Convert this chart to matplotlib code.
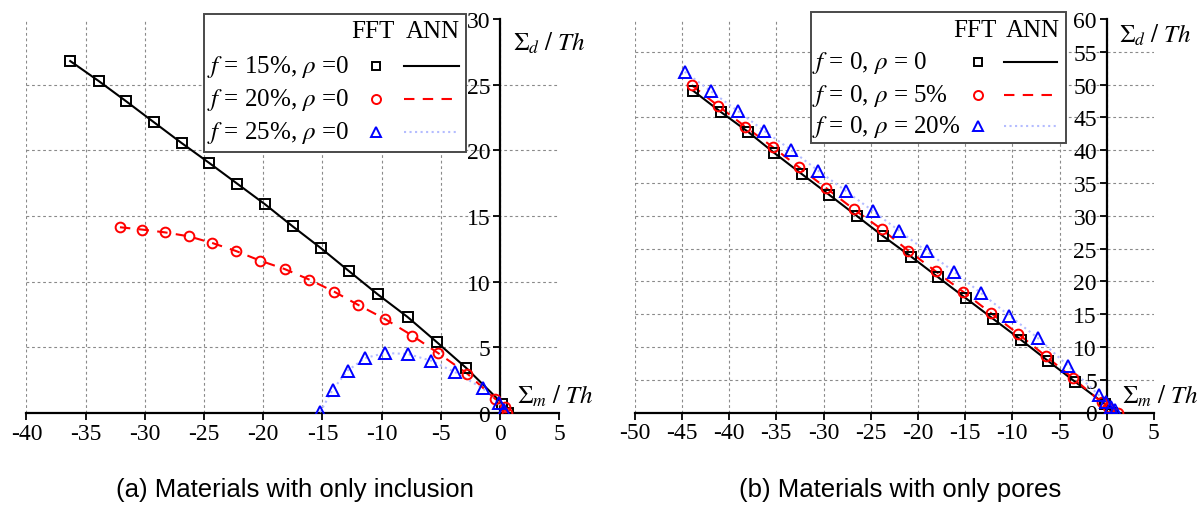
import matplotlib
matplotlib.use("Agg")
import matplotlib.pyplot as plt
from matplotlib.lines import Line2D
from matplotlib.patches import Rectangle

plt.rcParams['font.family'] = ['Liberation Serif', 'DejaVu Serif']
plt.rcParams['mathtext.fontset'] = 'stix'

# ---------------- data: (a) materials with only inclusion ----------------
a15_x = [-36.3, -33.9, -31.6, -29.25, -26.9, -24.55, -22.2, -19.85, -17.5, -15.1,
         -12.73, -10.33, -7.8, -5.35, -2.85, 0.2, 0.7]
a15_y = [26.8, 25.28, 23.75, 22.15, 20.56, 19.03, 17.46, 15.89, 14.2, 12.53,
         10.78, 9.03, 7.3, 5.4, 3.42, 0.7, 0.0]
a20_x = [-32.1, -30.2, -28.3, -26.3, -24.3, -22.3, -20.27, -18.2, -16.1, -14.0,
         -11.97, -9.71, -7.4, -5.2, -2.75, -0.42, 0.42, 0.6]
a20_y = [14.14, 13.96, 13.75, 13.45, 12.94, 12.33, 11.6, 10.96, 10.15, 9.23,
         8.22, 7.15, 5.88, 4.54, 2.98, 1.08, 0.45, 0.0]
a25_x = [-15.2, -14.13, -12.87, -11.4, -9.71, -7.8, -5.83, -3.8, -1.46, -0.05, 0.35]
a25_y = [0.05, 1.77, 3.22, 4.18, 4.56, 4.49, 3.98, 3.1, 1.87, 0.72, 0.2]

# ---------------- data: (b) materials with only pores ----------------
b0_x = [-43.8, -40.9, -38.0, -35.2, -32.3, -29.4, -26.5, -23.7, -20.7, -17.84,
        -14.9, -12.0, -9.1, -6.25, -3.36, -0.18, 0.6]
b0_y = [49.05, 45.85, 42.8, 39.56, 36.36, 33.2, 30.0, 26.9, 23.75, 20.6,
        17.4, 14.25, 11.1, 7.9, 4.7, 1.3, 0.0]
b5_x = [-43.96, -41.2, -38.3, -35.4, -32.6, -29.7, -26.8, -23.85, -21.0, -18.1,
        -15.2, -12.3, -9.36, -6.43, -3.54, -0.53, 0.1, 1.2]
b5_y = [49.9, 46.8, 43.6, 40.5, 37.4, 34.2, 31.0, 27.95, 24.67, 21.5,
        18.4, 15.2, 11.97, 8.57, 5.2, 1.55, 0.8, 0.0]
b20_x = [-44.7, -41.9, -39.1, -36.3, -33.4, -30.55, -27.65, -24.8, -21.97, -19.07,
         -16.18, -13.3, -10.3, -7.3, -4.1, -0.8, -0.07, 0.46, 0.88]
b20_y = [51.95, 48.96, 46.0, 42.96, 40.0, 36.86, 33.8, 30.76, 27.7, 24.57,
         21.46, 18.2, 14.76, 11.36, 7.13, 2.6, 1.65, 0.79, 0.38]

a_labels = [r"$f$ = 15%, $\rho$ =0", r"$f$ = 20%, $\rho$ =0", r"$f$ = 25%, $\rho$ =0"]
b_labels = [r"$f$ = 0, $\rho$ = 0", r"$f$ = 0, $\rho$ = 5%", r"$f$ = 0, $\rho$ = 20%"]
a_xticks = list(range(-40, 6, 5))
a_yticks = list(range(0, 31, 5))
b_xticks = list(range(-50, 6, 5))
b_yticks = list(range(0, 61, 5))
captions = ["(a) Materials with only inclusion", "(b) Materials with only pores"]

W, H = 1199, 506
fig = plt.figure(figsize=(W / 100, H / 100), dpi=100)

BLUE_LINE = '#b4bcff'
styles = [
    dict(marker='s', mec='black', ms=6.5, ls='-', color='black'),
    dict(marker='o', mec='red', ms=7, ls=(0, (5, 4)), color='red'),
    dict(marker='^', mec='blue', ms=8, ls=':', color=BLUE_LINE),
]

def px(x, y):
    return x / W, 1 - y / H

def setup(ax, xlim, ylim, xt, yt):
    ax.set_xlim(*xlim)
    ax.set_ylim(*ylim)
    ax.set_xticks(xt)
    ax.set_yticks(yt)
    ax.set_xticklabels([str(v) for v in xt])
    ax.set_yticklabels([str(v) for v in yt])
    for s in ['top', 'right']:
        ax.spines[s].set_visible(False)
    ax.spines['left'].set_position(('data', 0))
    ax.spines['left'].set_linewidth(1.6)
    ax.spines['bottom'].set_linewidth(1.6)
    ax.tick_params(direction='out', length=5, width=1.3, labelsize=17, pad=2)
    ax.grid(True, color='#8a8a8a', linestyle=(0, (2.5, 2.5)), linewidth=0.8)
    ax.set_axisbelow(True)
    ax.patch.set_alpha(0)
    # no grid line along the top and right edges
    ax.get_ygridlines()[-1].set_visible(False)
    ax.get_xgridlines()[-1].set_visible(False)

def plot_series(ax, xs, ys):
    for (x, y), st in zip(zip(xs, ys), styles):
        ax.plot(x, y, color=st['color'], ls=st['ls'], lw=1.5, zorder=3)
        ax.plot(x, y, ls='none', marker=st['marker'], ms=st['ms'], mfc='none',
                mec=st['mec'], mew=1.4, zorder=4)

def legend(box, header_y, fft_x, ann_x, rows_y, text_x, mark_x, line_x0, line_x1, labels):
    x0, y0, x1, y1 = box
    fx0, fy1 = px(x0, y1)
    fx1, fy0 = px(x1, y0)
    fig.add_artist(Rectangle((fx0, fy1), fx1 - fx0, fy0 - fy1, transform=fig.transFigure,
                             facecolor='white', edgecolor='#4a4a4a', lw=1.4, zorder=5))
    fig.text(*px(fft_x, header_y), "FFT", ha='center', va='center', fontsize=18, zorder=6)
    fig.text(*px(ann_x, header_y), "ANN", ha='center', va='center', fontsize=18, zorder=6)
    for lab, yy, st in zip(labels, rows_y, styles):
        fig.text(*px(text_x, yy), lab, ha='left', va='center', fontsize=18, zorder=6)
        mx, my = px(mark_x, yy)
        fig.add_artist(Line2D([mx], [my], transform=fig.transFigure, ls='none',
                              marker=st['marker'], ms=st['ms'] - 0.5, mfc='none',
                              mec=st['mec'], mew=1.4, zorder=6))
        lx0, ly = px(line_x0, yy)
        lx1, _ = px(line_x1, yy)
        fig.add_artist(Line2D([lx0, lx1], [ly, ly], transform=fig.transFigure,
                              color=st['color'], ls=st['ls'], lw=1.5, zorder=6))

# ---------- left panel ----------
l, r_ = 26.4, 559.2
axa = fig.add_axes([l / W, 1 - 413.9 / H, (r_ - l) / W, (413.9 - 20) / H])
setup(axa, (-40, 5), (0, 30), a_xticks, a_yticks)
plot_series(axa, [a15_x, a20_x, a25_x], [a15_y, a20_y, a25_y])
fig.text(*px(513, 43), r"$\Sigma_d\ /\ Th$", ha='left', va='center', fontsize=18)
fig.text(*px(517, 396.7), r"$\Sigma_m\ /\ Th$", ha='left', va='center', fontsize=18)
fig.text(*px(295, 490), captions[0], ha='center', va='center', fontsize=18.5,
         family=['Liberation Sans', 'DejaVu Sans'])
legend((204, 15, 466, 153), 32, 373, 433, [66.7, 100, 133.3], 207, 376, 404, 459, a_labels)

# ---------- right panel ----------
l2, r2 = 634.7, 1153.9
axb = fig.add_axes([l2 / W, 1 - 413.5 / H, (r2 - l2) / W, (413.5 - 20) / H])
setup(axb, (-50, 5), (0, 60), b_xticks, b_yticks)
plot_series(axb, [b0_x, b5_x, b20_x], [b0_y, b5_y, b20_y])
fig.text(*px(1119, 35), r"$\Sigma_d\ /\ Th$", ha='left', va='center', fontsize=18)
fig.text(*px(1122, 396.7), r"$\Sigma_m\ /\ Th$", ha='left', va='center', fontsize=18)
fig.text(*px(900, 490), captions[1], ha='center', va='center', fontsize=18.5,
         family=['Liberation Sans', 'DejaVu Sans'])
legend((811, 13, 1066, 144), 31, 975, 1033, [62.7, 96, 126.7], 812, 977.7, 1004, 1057, b_labels)

fig.savefig("out.png", dpi=100)
